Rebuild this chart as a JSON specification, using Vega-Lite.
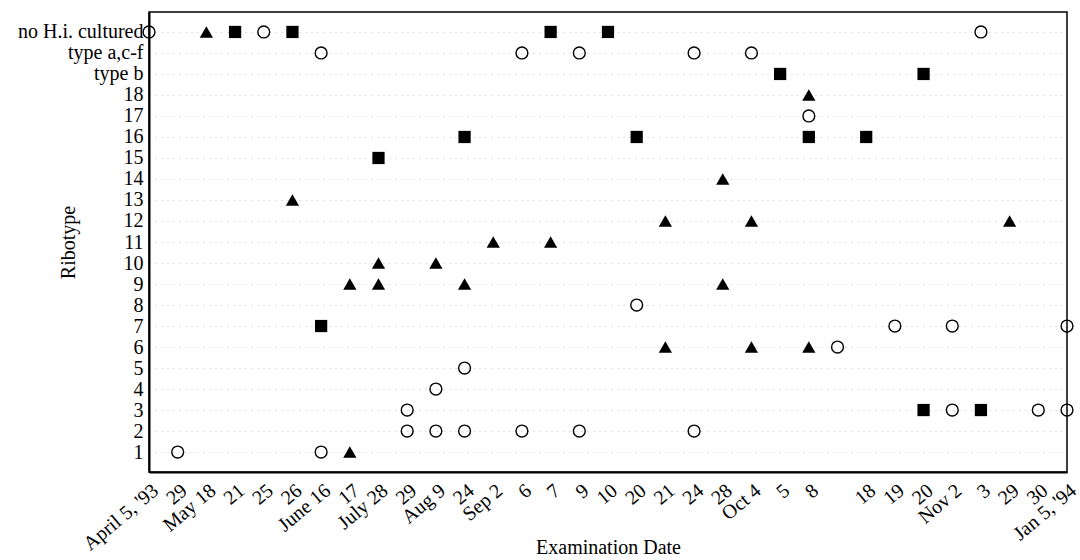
{
  "$schema": "https://vega.github.io/schema/vega-lite/v6.json",
  "width": 918,
  "height": 460,
  "autosize": {"type": "none"},
  "padding": {"left": 149, "top": 12, "right": 13, "bottom": 88},
  "background": "white",
  "config": {
    "view": {"stroke": "black", "strokeWidth": 1.5},
    "font": "Liberation Serif"
  },
  "data": {
    "values": [
      {"date": "1993-04-05", "ribotype": "no H.i. cultured", "marker": "circle"},
      {"date": "1993-05-18", "ribotype": "no H.i. cultured", "marker": "triangle"},
      {"date": "1993-05-21", "ribotype": "no H.i. cultured", "marker": "square"},
      {"date": "1993-05-25", "ribotype": "no H.i. cultured", "marker": "circle"},
      {"date": "1993-05-26", "ribotype": "no H.i. cultured", "marker": "square"},
      {"date": "1993-09-07", "ribotype": "no H.i. cultured", "marker": "square"},
      {"date": "1993-09-10", "ribotype": "no H.i. cultured", "marker": "square"},
      {"date": "1993-11-03", "ribotype": "no H.i. cultured", "marker": "circle"},
      {"date": "1993-06-16", "ribotype": "type a,c-f", "marker": "circle"},
      {"date": "1993-09-06", "ribotype": "type a,c-f", "marker": "circle"},
      {"date": "1993-09-09", "ribotype": "type a,c-f", "marker": "circle"},
      {"date": "1993-09-24", "ribotype": "type a,c-f", "marker": "circle"},
      {"date": "1993-10-04", "ribotype": "type a,c-f", "marker": "circle"},
      {"date": "1993-10-05", "ribotype": "type b", "marker": "square"},
      {"date": "1993-10-20", "ribotype": "type b", "marker": "square"},
      {"date": "1993-10-08", "ribotype": "18", "marker": "triangle"},
      {"date": "1993-10-08", "ribotype": "17", "marker": "circle"},
      {"date": "1993-08-24", "ribotype": "16", "marker": "square"},
      {"date": "1993-09-20", "ribotype": "16", "marker": "square"},
      {"date": "1993-10-08", "ribotype": "16", "marker": "square"},
      {"date": "1993-10-18", "ribotype": "16", "marker": "square"},
      {"date": "1993-07-28", "ribotype": "15", "marker": "square"},
      {"date": "1993-09-28", "ribotype": "14", "marker": "triangle"},
      {"date": "1993-05-26", "ribotype": "13", "marker": "triangle"},
      {"date": "1993-09-21", "ribotype": "12", "marker": "triangle"},
      {"date": "1993-10-04", "ribotype": "12", "marker": "triangle"},
      {"date": "1993-11-29", "ribotype": "12", "marker": "triangle"},
      {"date": "1993-09-02", "ribotype": "11", "marker": "triangle"},
      {"date": "1993-09-07", "ribotype": "11", "marker": "triangle"},
      {"date": "1993-07-28", "ribotype": "10", "marker": "triangle"},
      {"date": "1993-08-09", "ribotype": "10", "marker": "triangle"},
      {"date": "1993-06-17", "ribotype": "9", "marker": "triangle"},
      {"date": "1993-07-28", "ribotype": "9", "marker": "triangle"},
      {"date": "1993-08-24", "ribotype": "9", "marker": "triangle"},
      {"date": "1993-09-28", "ribotype": "9", "marker": "triangle"},
      {"date": "1993-09-20", "ribotype": "8", "marker": "circle"},
      {"date": "1993-06-16", "ribotype": "7", "marker": "square"},
      {"date": "1993-10-19", "ribotype": "7", "marker": "circle"},
      {"date": "1993-11-02", "ribotype": "7", "marker": "circle"},
      {"date": "1994-01-05", "ribotype": "7", "marker": "circle"},
      {"date": "1993-09-21", "ribotype": "6", "marker": "triangle"},
      {"date": "1993-10-04", "ribotype": "6", "marker": "triangle"},
      {"date": "1993-10-08", "ribotype": "6", "marker": "triangle"},
      {"date": "1993-10-13", "ribotype": "6", "marker": "circle"},
      {"date": "1993-08-24", "ribotype": "5", "marker": "circle"},
      {"date": "1993-08-09", "ribotype": "4", "marker": "circle"},
      {"date": "1993-07-29", "ribotype": "3", "marker": "circle"},
      {"date": "1993-10-20", "ribotype": "3", "marker": "square"},
      {"date": "1993-11-02", "ribotype": "3", "marker": "circle"},
      {"date": "1993-11-03", "ribotype": "3", "marker": "square"},
      {"date": "1993-11-30", "ribotype": "3", "marker": "circle"},
      {"date": "1994-01-05", "ribotype": "3", "marker": "circle"},
      {"date": "1993-07-29", "ribotype": "2", "marker": "circle"},
      {"date": "1993-08-09", "ribotype": "2", "marker": "circle"},
      {"date": "1993-08-24", "ribotype": "2", "marker": "circle"},
      {"date": "1993-09-06", "ribotype": "2", "marker": "circle"},
      {"date": "1993-09-09", "ribotype": "2", "marker": "circle"},
      {"date": "1993-09-24", "ribotype": "2", "marker": "circle"},
      {"date": "1993-04-29", "ribotype": "1", "marker": "circle"},
      {"date": "1993-06-16", "ribotype": "1", "marker": "circle"},
      {"date": "1993-06-17", "ribotype": "1", "marker": "triangle"}
    ]
  },
  "encoding": {
    "x": {
      "field": "date",
      "type": "ordinal",
      "scale": {
        "type": "point",
        "padding": 0,
        "domain": ["1993-04-05","1993-04-29","1993-05-18","1993-05-21","1993-05-25","1993-05-26","1993-06-16","1993-06-17","1993-07-28","1993-07-29","1993-08-09","1993-08-24","1993-09-02","1993-09-06","1993-09-07","1993-09-09","1993-09-10","1993-09-20","1993-09-21","1993-09-24","1993-09-28","1993-10-04","1993-10-05","1993-10-08","1993-10-13","1993-10-18","1993-10-19","1993-10-20","1993-11-02","1993-11-03","1993-11-29","1993-11-30","1994-01-05"]
      },
      "axis": {
        "title": "Examination Date",
        "titleFontSize": 20,
        "titleFontWeight": "normal",
        "titleColor": "black",
        "titleY": 65,
        "labelExpr": "{'1993-04-05': \"April 5, '93\", '1993-04-29': '29', '1993-05-18': 'May 18', '1993-05-21': '21', '1993-05-25': '25', '1993-05-26': '26', '1993-06-16': 'June 16', '1993-06-17': '17', '1993-07-28': 'July 28', '1993-07-29': '29', '1993-08-09': 'Aug 9', '1993-08-24': '24', '1993-09-02': 'Sep 2', '1993-09-06': '6', '1993-09-07': '7', '1993-09-09': '9', '1993-09-10': '10', '1993-09-20': '20', '1993-09-21': '21', '1993-09-24': '24', '1993-09-28': '28', '1993-10-04': 'Oct 4', '1993-10-05': '5', '1993-10-08': '8', '1993-10-13': '', '1993-10-18': '18', '1993-10-19': '19', '1993-10-20': '20', '1993-11-02': 'Nov 2', '1993-11-03': '3', '1993-11-29': '29', '1993-11-30': '30', '1994-01-05': \"Jan 5, '94\"}[datum.value]",
        "labelAngle": -40,
        "labelFontSize": 20,
        "labelColor": "black",
        "labelPadding": 8,
        "labelOverlap": false,
        "labelBound": false,
        "ticks": false,
        "grid": false,
        "domain": true,
        "domainColor": "black",
        "domainWidth": 2
      }
    },
    "y": {
      "field": "ribotype",
      "type": "ordinal",
      "scale": {
        "type": "point",
        "padding": 0.95,
        "domain": ["no H.i. cultured","type a,c-f","type b","18","17","16","15","14","13","12","11","10","9","8","7","6","5","4","3","2","1"]
      },
      "axis": {
        "title": "Ribotype",
        "titleFontSize": 20,
        "titleFontWeight": "normal",
        "titleColor": "black",
        "titleX": -71,
        "labelFontSize": 20,
        "labelColor": "black",
        "labelPadding": 6,
        "labelOverlap": false,
        "ticks": false,
        "grid": true,
        "gridColor": "#9a9a9a",
        "gridDash": [1, 5],
        "gridWidth": 0.6,
        "domain": true,
        "domainColor": "black",
        "domainWidth": 2
      }
    }
  },
  "layer": [
    {
      "transform": [{"filter": "datum.marker === 'circle'"}],
      "mark": {"type": "point", "shape": "circle", "filled": false, "stroke": "black", "strokeWidth": 1.4, "size": 140, "opacity": 1}
    },
    {
      "transform": [{"filter": "datum.marker !== 'circle'"}],
      "mark": {"type": "point", "filled": true, "color": "black", "opacity": 1},
      "encoding": {
        "shape": {"field": "marker", "type": "nominal", "scale": {"domain": ["triangle", "square"], "range": ["triangle-up", "square"]}, "legend": null},
        "size": {"field": "marker", "type": "nominal", "scale": {"domain": ["triangle", "square"], "range": [175, 150]}, "legend": null}
      }
    }
  ]
}
